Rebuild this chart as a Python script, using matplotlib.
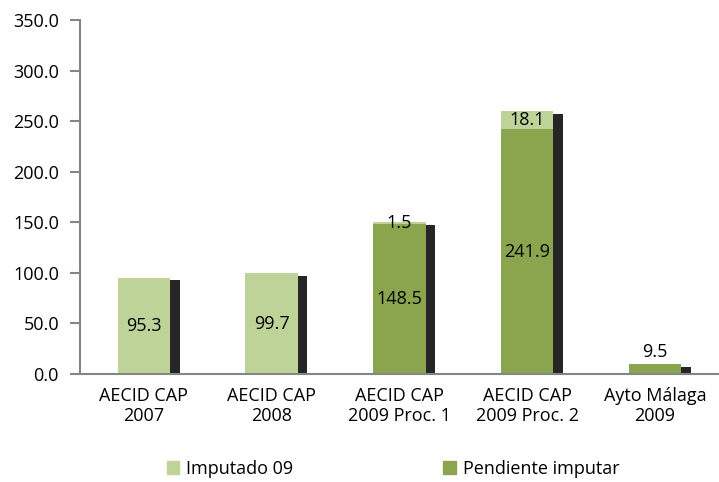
import numpy as np
import matplotlib.pyplot as plt
from matplotlib.patches import Patch

categorias = ['AECID CAP\n2007', 'AECID CAP\n2008', 'AECID CAP\n2009 Proc. 1',
              'AECID CAP\n2009 Proc. 2', 'Ayto Málaga\n2009']
pendiente = [0.0, 0.0, 148.5, 241.9, 9.5]
imputado = [95.3, 99.7, 1.5, 18.1, 0.0]
series = ['Imputado 09', 'Pendiente imputar']

c_light = '#BED398'
c_dark = '#8AA54E'

plt.rcParams['font.family'] = ['Open Sans', 'DejaVu Sans']

fig = plt.figure(figsize=(7.19, 4.82), dpi=100)
ax = fig.add_axes([0.111, 0.224, 0.889, 0.7345])

x = np.arange(len(categorias))
w = 0.41
pend = np.array(pendiente)
imp = np.array(imputado)
total = pend + imp

# sombra detras de las barras
ax.bar(x + 0.075, total - 1.5, w, bottom=-1.0, color='#262626', zorder=1)
ax.bar(x + 0.02, -1.2, w, color='#c8c8c8', zorder=1, clip_on=False)

ax.bar(x, pend, w, color=c_dark, zorder=2)
ax.bar(x, imp, w, bottom=pend, color=c_light, zorder=2)

fs = 13
for i in range(len(x)):
    if pend[i] > 0:
        if pend[i] > 20:
            ax.text(x[i], pend[i] / 2, f'{pend[i]:.1f}', ha='center', va='center',
                    fontsize=fs, zorder=3)
        else:
            ax.text(x[i], total[i] + 3, f'{pend[i]:.1f}', ha='center', va='bottom',
                    fontsize=fs, zorder=3)
    if imp[i] > 0:
        ax.text(x[i], pend[i] + imp[i] / 2, f'{imp[i]:.1f}', ha='center', va='center',
                fontsize=fs, zorder=3)

ax.set_xlim(-0.5, len(x) - 0.5)
ax.set_ylim(0, 350)
ax.set_yticks(np.arange(0, 351, 50))
ax.set_yticklabels([f'{v:.1f}' for v in np.arange(0, 351, 50)], fontsize=fs)
ax.set_xticks(x)
ax.set_xticklabels(categorias, fontsize=fs, linespacing=1.2)
ax.tick_params(axis='x', length=0, pad=9)
ax.tick_params(axis='y', length=7, color='#868686', width=1.5, pad=8)
for s in ['top', 'right']:
    ax.spines[s].set_visible(False)
for s in ['left', 'bottom']:
    ax.spines[s].set_color('#868686')
    ax.spines[s].set_linewidth(1.5)

handles = [Patch(color=c_light), Patch(color=c_dark)]
fig.legend(handles, series, loc='center', bbox_to_anchor=(0.547, 0.027),
           ncol=2, frameon=False, fontsize=fs, handlelength=0.7, handleheight=0.7,
           columnspacing=8.3, handletextpad=0.4)

fig.savefig('out.png', dpi=100)
